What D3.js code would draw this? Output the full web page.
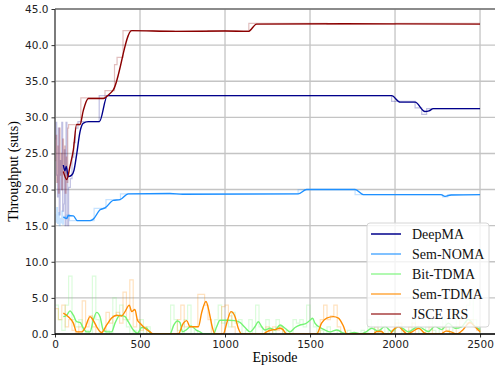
<!DOCTYPE html>
<html lang="en">
<head>
  <meta charset="UTF-8">
  <title>Throughput</title>
  <script src="https://d3js.org/d3.v7.min.js"></script>
  <style>
    body { margin: 0; background: #fff; }
    .serif { font-family: "Liberation Serif", "Times New Roman", Times, serif; }
  </style>
</head>
<body>
<svg id="chart" width="495" height="371"></svg>
<script>
// legend names and colours
let names = ["DeepMA", "Sem-NOMA", "Bit-TDMA", "Sem-TDMA", "JSCE IRS"];
let colors = ["#00008b", "#1e90ff", "#74f474", "#ff8c00", "#8b0000"];

let yTicks = [0, 5, 10, 15, 20, 25, 30, 35, 40, 45];
let xTicks = [0, 500, 1000, 1500, 2000, 2500];

// raw (faint) curves, [episode, value], drawn as steps
let deepmaRaw = [[0,27.0],[5,29.3],[10,22],[15,19],[20,28.5],[25,16.5],[30,24],[35,20],[40,29.3],[45,17],[50,18],[55,25.5],[60,15],[65,29.3],[70,22],[75,15],[80,20.3],[90,21.5],[100,24.5],[110,26.5],[120,28.5],[135,29.4],[260,33.0],[1980,32.2],[2118,31.3],[2157,30.4],[2186,31.2],[2500,31.2]];
let nomaRaw = [[0,16.5],[5,15.5],[10,17.5],[15,15.3],[20,16.8],[25,15.0],[30,16.0],[35,15.4],[40,17.0],[45,15.2],[50,16.3],[60,16.0],[70,16.5],[85,15.7],[230,17.4],[300,18.6],[385,19.4],[1430,20.0],[1765,19.3],[2280,19.0],[2310,19.3],[2500,19.3]];
let jsceRaw = [[0,24],[5,27.5],[10,21],[15,26],[20,19.5],[25,28.5],[30,22],[35,25],[40,20],[45,27],[50,22.5],[55,26],[60,19.5],[65,24.5],[70,21],[75,28.5],[80,29.0],[152,32.7],[294,33.7],[350,37.3],[365,38.3],[400,42.0],[700,41.9],[900,42.0],[1140,43.0],[1600,42.9],[2000,43.0],[2500,43.0]];

// raw TDMA curves, one value every 20 episodes
let rawEpisodes = d3.range(0, 2501, 20);
let bitRaw = [4.0,2.0,0.5,4.0,8.0,2.0,1.0,2.0,0,0.5,0,8.0,2.0,0,0,0.5,0,5.0,2.5,4.0,
  2.0,1.0,0,0.5,0,2.0,0,1.0,0,0,0,0,0,0,4.0,2.0,0.5,0,2.0,4.0,
  0,0.5,0,0,0,0,0,2.0,4.0,1.5,2.0,1.0,3.0,1.5,2.0,0,0.5,2.0,0,4.0,
  1.0,0,2.0,0.5,0,2.0,1.0,0,0.5,0,2.0,1.5,2.0,1.0,4.0,2.0,1.0,0,0.5,0,
  1.0,0,0,0.5,0,0,0.5,0,0,0,0.5,0,2.0,1.0,0,2.0,1.0,0,0.5,0,
  2.0,1.0,0,0,0.5,2.0,1.0,0,0,1.0,2.0,0.5,0,1.0,2.0,1.0,0,1.0,2.0,3.0,
  3.0,4.0,6.0,2.0,1.0,0];
let semRaw = [3.5,2.0,4.0,1.0,2.0,0.5,0,1.0,4.6,1.0,2.5,1.0,0,0,0.5,3.0,1.5,2.5,3.0,1.5,
  5.8,2.0,7.5,1.0,2.0,0.5,1.0,0,0,0,0,0,0,0,0,0,2.0,4.0,1.0,1.0,
  1.0,1.0,5.5,5.5,4.0,2.0,0,0,0,3.8,4.0,2.5,1.0,0,0,0,0,0,0,0,
  0,0,1.0,0,1.0,0.5,1.0,0,0,0,0,0,0,0,0,0,0,0,2.0,4.0,
  2.0,2.5,4.0,1.0,0,0,0,0,0,0,0,0,0,0,1.0,0.5,0,0,0,0,
  1.5,1.5,0.5,0,1.0,1.5,0,0,0,0,1.0,0,0,0,1.0,0.5,0,0,1.0,2.0,
  2.5,1.5,2.0,1.0,0.5,0];

// smoothed curves, [episode, value]
let deepmaSmooth = [[49,23.4],[58,22.6],[66,23.2],[78,21.8],[98,22.0],[112,22.7],[127,24.8],[147,28.0],[167,29.2],[196,29.4],[261,29.4],[308,33.0],[1980,33.0],[2030,32.1],[2118,32.1],[2176,30.8],[2200,30.9],[2225,31.2],[2500,31.2]];
let nomaSmooth = [[49,16.2],[69,16.0],[78,16.4],[108,16.35],[131,15.7],[206,15.7],[225,15.9],[265,17.2],[294,17.45],[343,18.5],[382,18.6],[431,19.4],[676,19.45],[750,19.35],[1430,19.4],[1480,20.0],[1765,20.0],[1814,19.3],[2270,19.3],[2294,19.05],[2330,19.25],[2500,19.3]];
let bitSmooth = [[49,2.4],[69,2.6],[88,3.2],[108,2.6],[127,1.7],[147,1.6],[167,0.8],[186,0.3],[206,0.3],[225,1.9],[245,3.0],[265,2.4],[284,0.55],[304,0.3],[333,0.3],[353,1.5],[382,2.6],[412,2.4],[431,1.7],[461,0.55],[485,0.1],[510,0.9],[539,0.8],[568,0],[676,0],[700,1.3],[720,1.8],[735,1.6],[750,0.3],[774,0.6],[800,1.1],[833,0.5],[853,0.3],[873,0],[932,0],[951,1.0],[970,1.9],[1020,1.9],[1059,1.85],[1088,1.6],[1118,0.9],[1147,0.3],[1176,1.0],[1196,1.7],[1216,1.0],[1235,0.55],[1265,0.8],[1294,0.55],[1324,1.25],[1353,0.8],[1382,0.3],[1412,0.9],[1441,1.25],[1471,1.4],[1500,1.9],[1515,2.2],[1529,1.5],[1559,0.9],[1588,0.55],[1618,0.3],[1657,0.55],[1690,0.2],[1720,0],[1760,0.2],[1800,0],[1830,0.3],[1863,0.8],[1900,0.4],[1941,1.05],[1980,0.35],[2020,1.05],[2050,0.7],[2078,0.3],[2137,1.05],[2196,0.35],[2235,1.05],[2274,0.6],[2314,1.5],[2353,0.8],[2392,1.0],[2431,2.0],[2471,1.05],[2500,0.6]];
let semSmooth = [[49,2.9],[78,2.4],[108,1.5],[127,0.3],[157,0.3],[176,0.8],[206,2.4],[225,1.9],[245,1.0],[274,0.2],[304,1.25],[333,2.2],[363,2.6],[392,2.5],[412,3.1],[437,4.0],[451,3.1],[470,3.4],[485,1.9],[500,1.5],[529,0.8],[559,0.3],[578,0],[725,0],[755,1.5],[775,1.85],[794,1.0],[843,1.0],[863,3.0],[888,4.5],[908,2.9],[922,1.25],[941,0],[990,0],[1010,1.5],[1035,3.1],[1059,2.4],[1078,0.8],[1098,0],[1225,0],[1245,0.3],[1274,0.55],[1300,0.65],[1320,0.8],[1339,0.65],[1363,0],[1539,0],[1568,1.5],[1598,2.2],[1637,2.4],[1667,2.2],[1696,1.1],[1716,0],[1873,0],[1892,0.35],[1922,0.35],[1937,0],[1970,0],[1990,0.6],[2020,1.0],[2050,0.4],[2070,0],[2100,0.3],[2140,0.8],[2170,0.2],[2200,0],[2270,0],[2300,0.4],[2330,0.3],[2360,0],[2400,0.6],[2440,1.6],[2470,1.0],[2500,0.3]];
let jsceSmooth = [[49,22.5],[69,21.4],[88,23.2],[108,25.5],[127,29.0],[147,29.0],[167,31.0],[196,32.6],[284,32.6],[314,33.1],[343,33.8],[451,42.0],[700,41.9],[1000,41.95],[1137,41.9],[1186,42.9],[1700,42.95],[2500,42.9]];

var svg = d3.select("#chart");
var mLeft = 55, mRight = 495, mTop = 9, mBottom = 334;

var x = d3.scaleLinear().domain([0, 2588]).range([mLeft, mRight]);
var y = d3.scaleLinear().domain([0, 45]).range([mBottom, mTop]);

// grid
svg.append("g").selectAll("line").data(xTicks).enter().append("line")
  .attr("x1", d => x(d)).attr("x2", d => x(d))
  .attr("y1", mTop).attr("y2", mBottom)
  .attr("stroke", "#cfcfcf").attr("stroke-width", 1.6);
svg.append("g").selectAll("line").data(yTicks).enter().append("line")
  .attr("x1", mLeft).attr("x2", mRight)
  .attr("y1", d => y(d)).attr("y2", d => y(d))
  .attr("stroke", "#c4c4c4").attr("stroke-width", 1.4);

svg.append("clipPath").attr("id", "clip").append("rect")
  .attr("x", mLeft).attr("y", mTop).attr("width", mRight - mLeft).attr("height", mBottom - mTop);
var plot = svg.append("g").attr("clip-path", "url(#clip)");

var stepLine = d3.line().x(d => x(d[0])).y(d => y(d[1])).curve(d3.curveStepAfter);
var smoothLine = d3.line().x(d => x(d[0])).y(d => y(d[1])).curve(d3.curveMonotoneX);

let bitRawPts = rawEpisodes.map((e, i) => [e, bitRaw[i]]);
let semRawPts = rawEpisodes.map((e, i) => [e, semRaw[i]]);

let raws = [deepmaRaw, nomaRaw, bitRawPts, semRawPts, jsceRaw];
let smooths = [deepmaSmooth, nomaSmooth, bitSmooth, semSmooth, jsceSmooth];

raws.forEach((r, i) => {
  plot.append("path").attr("d", stepLine(r))
    .attr("fill", "none").attr("stroke", colors[i])
    .attr("stroke-opacity", 0.25).attr("stroke-width", 1.2);
});
smooths.forEach((s, i) => {
  plot.append("path").attr("d", smoothLine(s))
    .attr("fill", "none").attr("stroke", colors[i])
    .attr("stroke-width", 1.4);
});

// spines
svg.append("line").attr("x1", mLeft).attr("x2", mRight).attr("y1", mTop).attr("y2", mTop)
  .attr("stroke", "#444").attr("stroke-width", 1.2);
svg.append("line").attr("x1", mLeft).attr("x2", mLeft).attr("y1", mTop).attr("y2", mBottom)
  .attr("stroke", "#555").attr("stroke-width", 1.4);

// axes
var yAxis = d3.axisLeft(y).tickValues(yTicks).tickFormat(d3.format(".1f")).tickSize(3.5).tickPadding(3);
var gy = svg.append("g").attr("transform", "translate(" + mLeft + ",0)").call(yAxis);
gy.select(".domain").remove();
var xAxis = d3.axisBottom(x).tickValues(xTicks).tickFormat(d3.format("d")).tickSize(3.5).tickPadding(3);
var gx = svg.append("g").attr("transform", "translate(0," + mBottom + ")").call(xAxis);
gx.select(".domain").remove();
[gx, gy].forEach(g => {
  g.selectAll("text").attr("font-family", "DejaVu Sans").attr("font-size", "10.5px").attr("fill", "#222");
  g.selectAll(".tick line").attr("stroke", "#333");
});
svg.append("line").attr("x1", mLeft).attr("x2", mRight).attr("y1", mBottom).attr("y2", mBottom)
  .attr("stroke", "#000").attr("stroke-width", 1.6);

// axis titles
svg.append("text").attr("class", "serif").attr("x", 275).attr("y", 362).attr("text-anchor", "middle")
  .attr("font-size", "14px").text("Episode");
svg.append("text").attr("class", "serif")
  .attr("transform", "translate(18," + ((mTop + mBottom) / 2) + ") rotate(-90)")
  .attr("text-anchor", "middle")
  .attr("font-size", "14px").text("Throughput (suts)");

// legend
var lg = svg.append("g");
lg.append("rect").attr("x", 367).attr("y", 223).attr("width", 122).attr("height", 104)
  .attr("rx", 3).attr("fill", "#fff").attr("fill-opacity", 0.8)
  .attr("stroke", "#d6d6d6").attr("stroke-width", 1);
names.forEach((n, i) => {
  var ly = 234 + i * 20;
  lg.append("line").attr("x1", 371).attr("x2", 401).attr("y1", ly).attr("y2", ly)
    .attr("stroke", colors[i]).attr("stroke-width", 1.5).attr("stroke-opacity", i == 0 ? 1 : 0.75);
  lg.append("text").attr("class", "serif").attr("x", 412).attr("y", ly + 5)
    .attr("font-size", "14px").attr("fill", "#111").text(n);
});
</script>
</body>
</html>
